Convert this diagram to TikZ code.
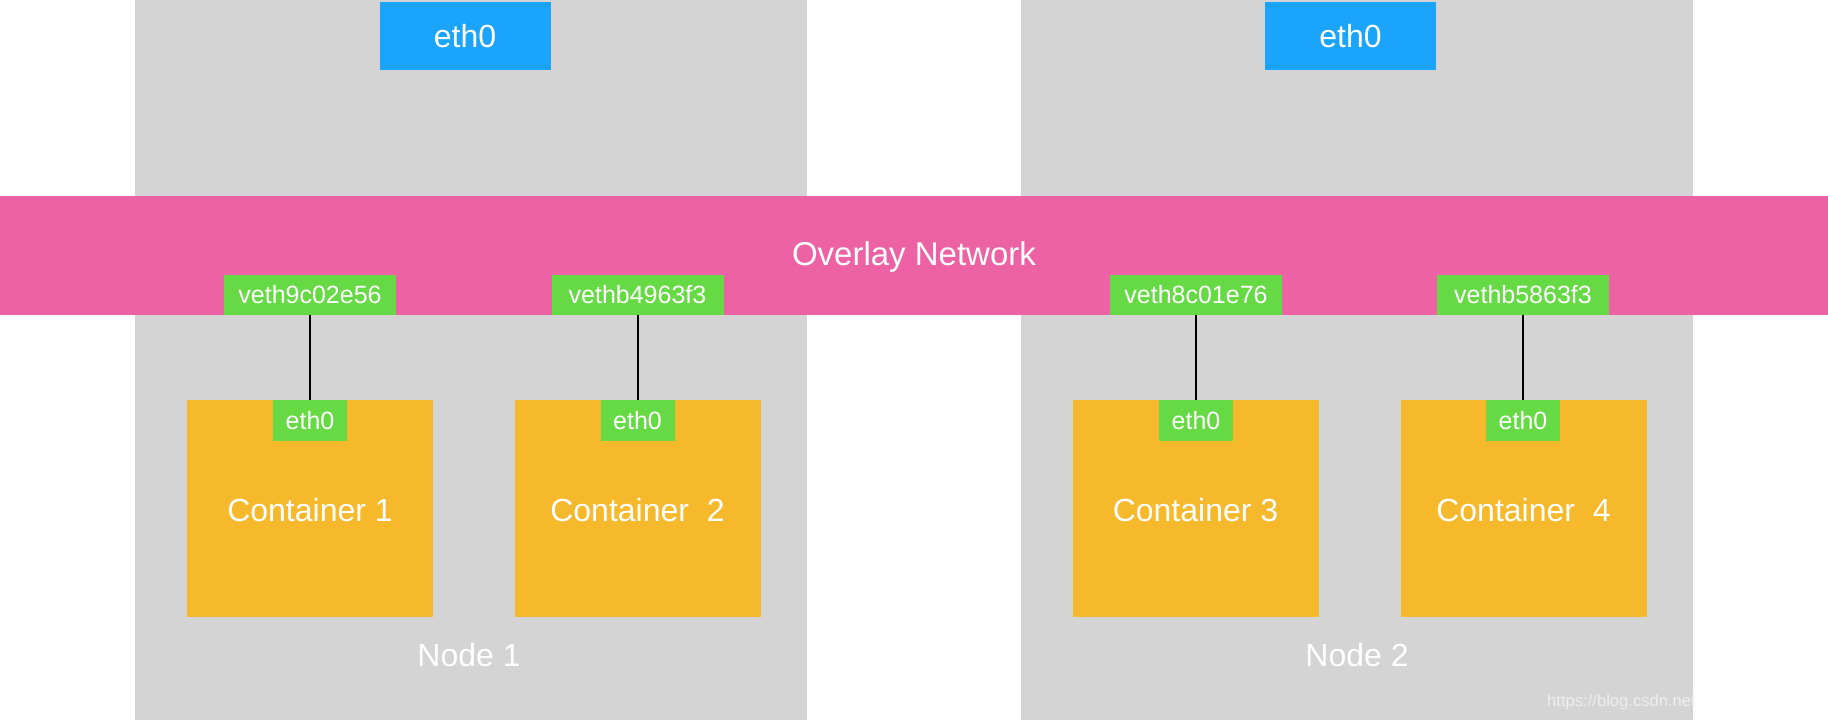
\documentclass[tikz,border=0pt]{standalone}
\usepackage{fontspec}
\setmainfont{Liberation Sans}
\definecolor{hostgray}{HTML}{D4D4D4}
\definecolor{overlaypink}{HTML}{EC62A5}
\definecolor{ethblue}{HTML}{1BA4FC}
\definecolor{vethgreen}{HTML}{66DA45}
\definecolor{contorange}{HTML}{F6B92C}
\definecolor{wmark}{HTML}{EEEEEE}
\tikzset{
  flat/.style={inner sep=0pt, outer sep=0pt, draw=none, text=white},
  hostbox/.style={flat, fill=hostgray, minimum width=336pt, minimum height=360pt},
  overlay/.style={flat, fill=overlaypink, minimum width=914pt, minimum height=59.5pt},
  bigtext/.style={flat, font=\fontsize{16.5}{19}\selectfont},
  hosteth/.style={flat, fill=ethblue, minimum width=85.5pt, minimum height=34pt, font=\fontsize{16}{19}\selectfont},
  vethbox/.style={flat, fill=vethgreen, minimum width=86pt, minimum height=20pt, font=\fontsize{12.5}{15}\selectfont},
  contbox/.style={flat, fill=contorange, minimum width=123pt, minimum height=108.5pt},
  conttext/.style={flat, font=\fontsize{16}{19}\selectfont},
  conteth/.style={flat, fill=vethgreen, minimum width=37pt, minimum height=20.5pt, font=\fontsize{12.5}{15}\selectfont},
  hostlabel/.style={flat, font=\fontsize{16}{19}\selectfont},
  link/.style={draw=black, line width=1pt}
}
\begin{document}
\begin{tikzpicture}[x=0.5pt, y=-0.5pt]
  \useasboundingbox (0,0) rectangle (1828,721);
  % hosts
  \node[hostbox] (host1) at (471,360) {};
  \node[hostbox] (host2) at (1357,360) {};
  \node[hosteth] (heth1) at (465,36) {eth0};
  \node[hosteth] (heth2) at (1350.5,36) {eth0};
  % overlay
  \node[overlay] (ovl) at (914,255.5) {};
  \node[bigtext] (ovltext) at (914,257) {Overlay Network};
  % veth
  \node[vethbox] (v1) at (310,295) {veth9c02e56};
  \node[vethbox] (v2) at (637.5,295) {vethb4963f3};
  \node[vethbox] (v3) at (1196,295) {veth8c01e76};
  \node[vethbox] (v4) at (1523,295) {vethb5863f3};
  % containers
  \node[contbox] (c1) at (310,508.5) {};
  \node[contbox] (c2) at (637.5,508.5) {};
  \node[contbox] (c3) at (1195.5,508.5) {};
  \node[contbox] (c4) at (1523.5,508.5) {};
  \node[conttext] (t1) at (310,510) {Container 1};
  \node[conttext] (t2) at (637.5,510) {Container\ \ 2};
  \node[conttext] (t3) at (1195.5,510) {Container 3};
  \node[conttext] (t4) at (1523.5,510) {Container\ \ 4};
  \node[conteth] (ce1) at (310,420.5) {eth0};
  \node[conteth] (ce2) at (637.5,420.5) {eth0};
  \node[conteth] (ce3) at (1196,420.5) {eth0};
  \node[conteth] (ce4) at (1523,420.5) {eth0};
  % links
  \draw[link] (v1.south) -- (ce1.north);
  \draw[link] (v2.south) -- (ce2.north);
  \draw[link] (v3.south) -- (ce3.north);
  \draw[link] (v4.south) -- (ce4.north);
  % host labels
  \node[hostlabel] (n1) at (469,655) {Node 1};
  \node[hostlabel] (n2) at (1357,655) {Node 2};
  % watermark
  \node[flat, text=wmark, font=\fontsize{8.3}{10}\selectfont] (wm) at (1621.5,702) {https://blog.csdn.net};
\end{tikzpicture}
\end{document}
